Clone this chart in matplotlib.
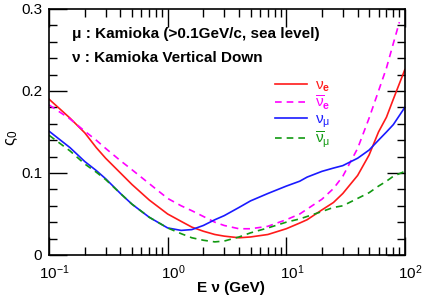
import matplotlib
matplotlib.use('Agg')
import matplotlib.pyplot as plt
import matplotlib.transforms as mtransforms
from matplotlib.ticker import MultipleLocator, LogLocator, NullFormatter

plt.rcParams['font.family'] = ['Liberation Sans', 'DejaVu Sans']
plt.rcParams['mathtext.fontset'] = 'custom'
plt.rcParams['mathtext.rm'] = 'Liberation Sans'
plt.rcParams['mathtext.it'] = 'Liberation Sans'
plt.rcParams['mathtext.bf'] = 'Liberation Sans:bold'

# energies (GeV) and flux ratios
energy = [0.1, 0.15, 0.2, 0.25, 0.3, 0.4, 0.5, 0.7, 1, 1.3, 1.6, 2, 2.5, 3, 4, 5,
          7, 10, 13, 15, 20, 25, 30, 40, 50, 60, 70, 80, 100]
nu_e = [0.190, 0.167, 0.149, 0.131, 0.118, 0.100, 0.086, 0.067, 0.050, 0.041,
        0.034, 0.029, 0.025, 0.023, 0.021, 0.022, 0.025, 0.032, 0.039, 0.043,
        0.055, 0.064, 0.075, 0.097, 0.122, 0.150, 0.168, 0.190, 0.226]
nu_mu = [0.151, 0.131, 0.114, 0.103, 0.093, 0.075, 0.062, 0.046, 0.033, 0.030,
         0.031, 0.036, 0.043, 0.048, 0.058, 0.066, 0.075, 0.084, 0.090, 0.095,
         0.102, 0.106, 0.109, 0.118, 0.128, 0.140, 0.150, 0.159, 0.180]
nubar_mu = [0.146, 0.127, 0.111, 0.101, 0.092, 0.075, 0.062, 0.046, 0.033, 0.026,
            0.021, 0.018, 0.016, 0.017, 0.022, 0.027, 0.033, 0.040, 0.044, 0.047,
            0.053, 0.058, 0.060, 0.069, 0.076, 0.084, 0.090, 0.096, 0.102]

energy_ebar = [0.1, 0.15, 0.2, 0.25, 0.3, 0.4, 0.5, 0.7, 1, 1.3, 1.6, 2, 2.5, 3, 4, 5,
               7, 10, 13, 15, 20, 25, 30, 40, 50, 60, 70, 80, 90]
nubar_e = [0.183, 0.166, 0.151, 0.140, 0.130, 0.115, 0.104, 0.087, 0.069, 0.060,
           0.054, 0.047, 0.040, 0.036, 0.032, 0.032, 0.035, 0.043, 0.050, 0.056,
           0.068, 0.081, 0.096, 0.130, 0.167, 0.200, 0.228, 0.258, 0.284]

fig = plt.figure(figsize=(4.23, 3.0), dpi=100)
ax = fig.add_axes([0.116, 0.15, 0.841, 0.82])

lw = 1.2
ax.plot(energy, nu_e, color='#ff1a1a', lw=lw, label=r'$\nu_\mathbf{e}$')
ax.plot(energy_ebar, nubar_e, color='#ff00ff', lw=lw, dashes=(4, 3),
        label=r'$\overline{\nu}_\mathbf{e}$')
ax.plot(energy, nu_mu, color='#1a1aff', lw=lw, label=r'$\nu_\mu$')
ax.plot(energy, nubar_mu, color='#119911', lw=lw, dashes=(4, 3),
        label=r'$\overline{\nu}_\mu$')

ax.set_xscale('log')
ax.set_xlim(0.1, 100)
ax.set_ylim(0, 0.3)
ax.yaxis.set_major_locator(MultipleLocator(0.1))
ax.yaxis.set_minor_locator(MultipleLocator(0.02))
ax.xaxis.set_minor_locator(LogLocator(base=10, subs=range(2, 10)))
ax.xaxis.set_minor_formatter(NullFormatter())
ax.set_yticks([0, 0.1, 0.2, 0.3])
ax.set_yticklabels(['0', '0.1', '0.2', '0.3'])

ax.tick_params(which='both', direction='in', top=True, right=True, labelsize=11)
ax.tick_params(which='major', length=13, width=1)
ax.tick_params(which='minor', length=6, width=1)
ax.tick_params(axis='x', pad=6)
ax.tick_params(axis='y', pad=5)
for s in ax.spines.values():
    s.set_linewidth(1.2)

# x tick labels sit a little right of their ticks in the original
shift = mtransforms.ScaledTranslation(4 / 72, 0, fig.dpi_scale_trans)
for lab in ax.get_xticklabels():
    lab.set_transform(lab.get_transform() + shift)

ax.set_xlabel('E ν (GeV)', fontsize=11, fontweight='bold', va='top')
ax.xaxis.set_label_coords(0.511, -0.104)
ax.set_ylabel(r'$\varsigma_0$', fontsize=12, va='center')
ax.yaxis.set_label_coords(-0.105, 0.475)

ax.text(0.065, 0.90, 'μ : Kamioka (>0.1GeV/c, sea level)', transform=ax.transAxes,
        fontsize=11, fontweight='bold', va='center')
ax.text(0.065, 0.80, 'ν : Kamioka Vertical Down', transform=ax.transAxes,
        fontsize=11, fontweight='bold', va='center')

ax.legend(loc='upper left', bbox_to_anchor=(0.635, 0.717), frameon=False,
          handlelength=2.1, handletextpad=0.5, labelspacing=0.0,
          borderpad=0, borderaxespad=0, labelcolor='linecolor',
          prop={'size': 11})

plt.savefig('out.png', dpi=100)
plt.close()
